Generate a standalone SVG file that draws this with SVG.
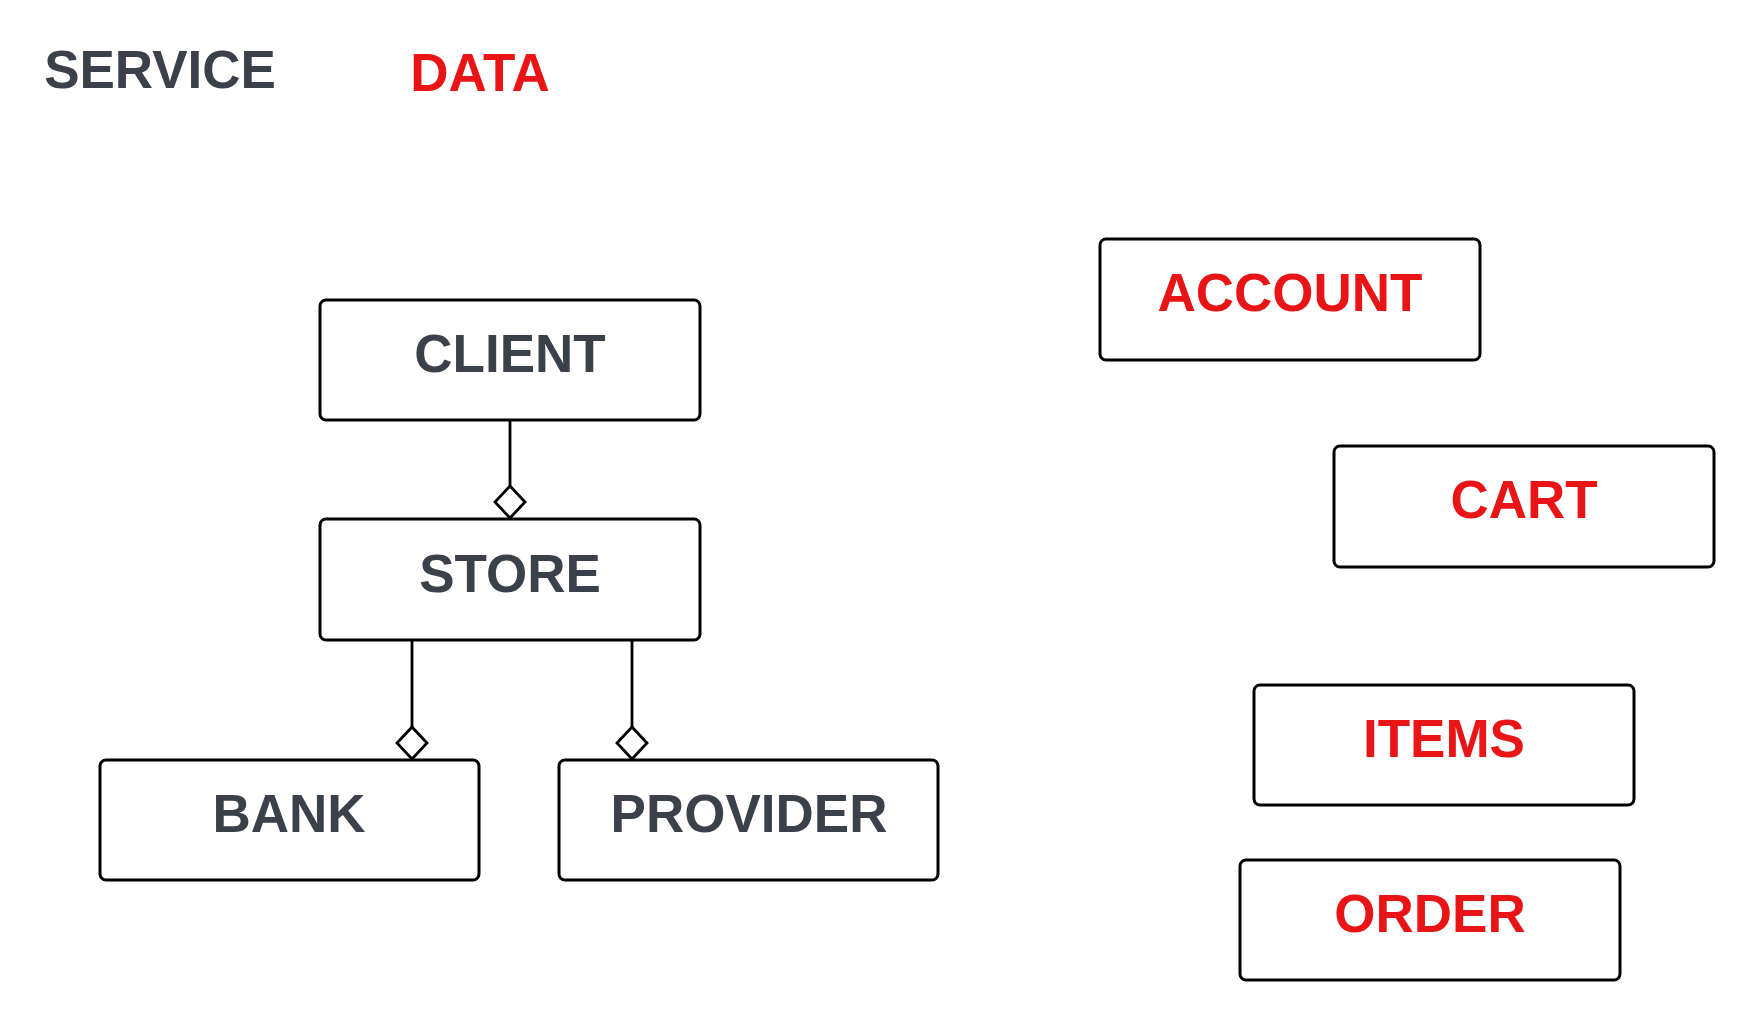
<svg xmlns="http://www.w3.org/2000/svg" width="1755" height="1020" viewBox="0 0 1755 1020">
<style>
.box{fill:#fff;stroke:#000;stroke-width:3}
.t{font-family:"Liberation Sans",Arial,sans-serif;font-weight:bold;font-size:53px;text-anchor:middle}
.g{fill:#3a414a}
.r{fill:#e81416}
.c{fill:none;stroke:#000;stroke-width:2.8}
</style>
<defs>
<marker id="dia" markerUnits="userSpaceOnUse" viewBox="-2 -17 36 34" markerWidth="36" markerHeight="34" refX="32" refY="0" orient="auto">
<path d="M0,0 L16,-15 L32,0 L16,15 Z" fill="#fff" stroke="#000" stroke-width="2.8"/>
</marker>
</defs>
<rect width="1755" height="1020" fill="#fff"/>
<text class="t g" x="160" y="88">SERVICE</text>
<text class="t r" x="480" y="91">DATA</text>
<g id="connectors">
<path class="c" d="M510,420 L510,518" marker-end="url(#dia)"/>
<path class="c" d="M412,640 L412,759" marker-end="url(#dia)"/>
<path class="c" d="M632,640 L632,759" marker-end="url(#dia)"/>
</g>
<g id="client"><rect class="box" x="320" y="300" width="380" height="120" rx="6"/><text class="t g" x="510" y="372">CLIENT</text></g>
<g id="store"><rect class="box" x="320" y="519" width="380" height="121" rx="6"/><text class="t g" x="510" y="592">STORE</text></g>
<g id="bank"><rect class="box" x="100" y="760" width="379" height="120" rx="6"/><text class="t g" x="289" y="832">BANK</text></g>
<g id="provider"><rect class="box" x="559" y="760" width="379" height="120" rx="6"/><text class="t g" x="749" y="832">PROVIDER</text></g>
<g id="account"><rect class="box" x="1100" y="239" width="380" height="121" rx="6"/><text class="t r" x="1290" y="311">ACCOUNT</text></g>
<g id="cart"><rect class="box" x="1334" y="446" width="380" height="121" rx="6"/><text class="t r" x="1524" y="518">CART</text></g>
<g id="items"><rect class="box" x="1254" y="685" width="380" height="120" rx="6"/><text class="t r" x="1444" y="757">ITEMS</text></g>
<g id="order"><rect class="box" x="1240" y="860" width="380" height="120" rx="6"/><text class="t r" x="1430" y="932">ORDER</text></g>
</svg>
